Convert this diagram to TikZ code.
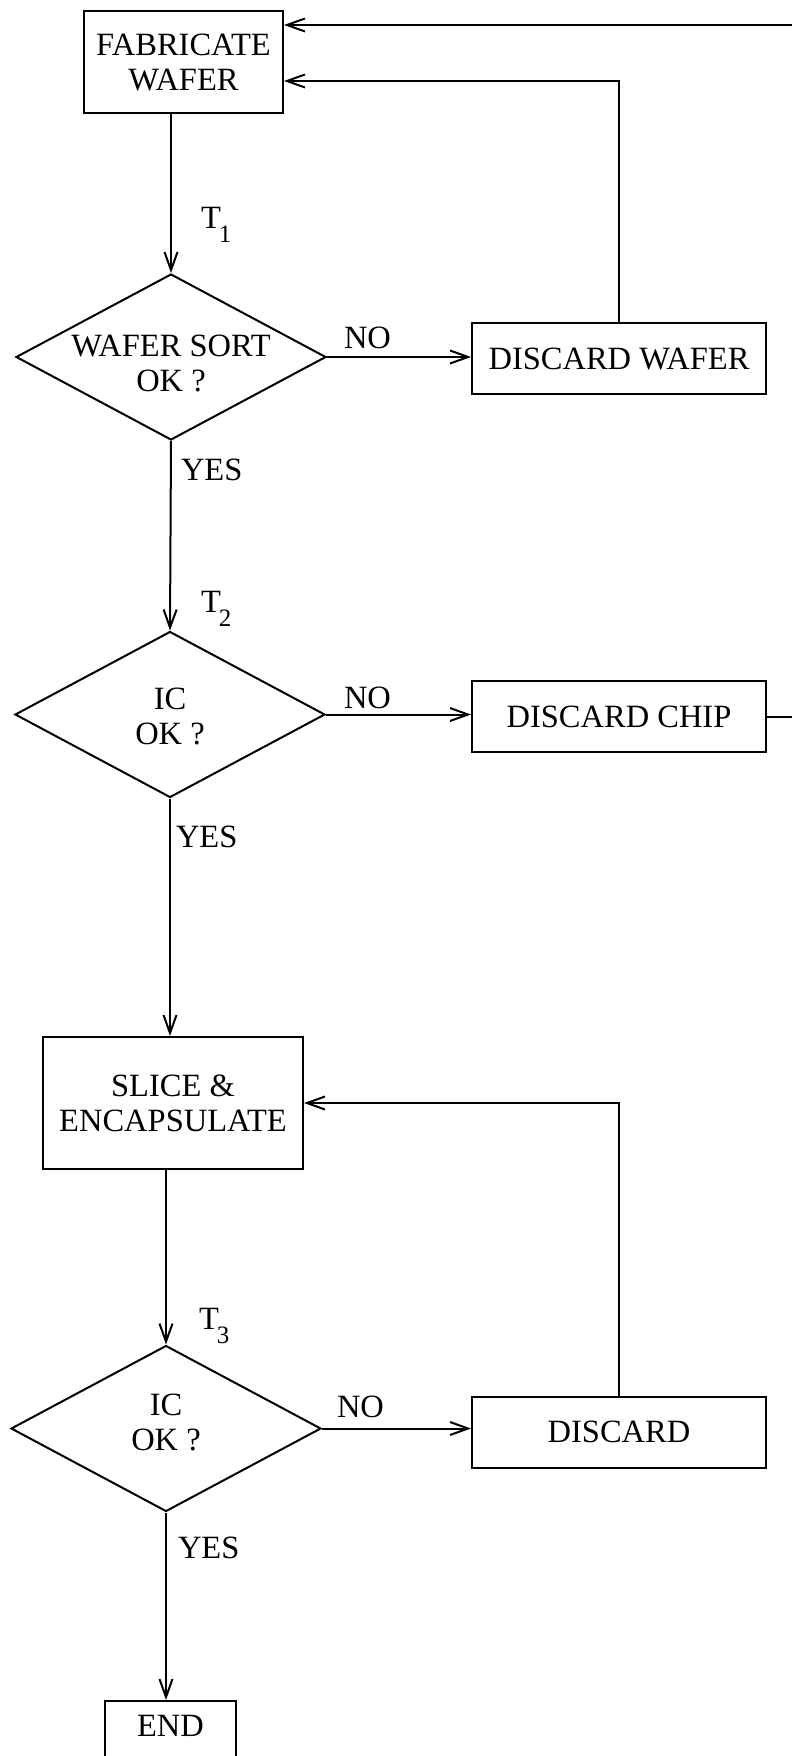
\documentclass[tikz,border=0pt]{standalone}
\usepackage{fontspec}
\setmainfont{Liberation Serif}
\usetikzlibrary{arrows.meta, positioning, shapes.geometric}
\newcommand{\tlab}[1]{T\hspace{-2pt}\raisebox{-14pt}{\fontsize{25}{25}\selectfont #1}}

\begin{document}
\begin{tikzpicture}[x=1pt, y=-1pt, >={Straight Barb[length=18pt, width=13pt]},
    line width=2pt, font=\fontsize{32.5}{35}\selectfont,
    box/.style={draw, rectangle, inner sep=0pt, align=center},
    decision/.style={draw, diamond, inner sep=0pt,
      minimum width=310pt, minimum height=166pt},
    lbl/.style={inner sep=0pt, anchor=base west}]
  \useasboundingbox (0,0) rectangle (792,1756);
  % main column
  \node[box, minimum width=199pt, minimum height=102pt] (fab) at (183.5,62)
    {FABRICATE\\WAFER};
  \foreach \i/\x/\y in {1/171/357, 2/170/714.5, 3/166/1428.5}
    \node[decision] (d\i) at (\x,\y) {};
  \node[align=center, inner sep=0pt] (q1) at (171,363.5) {WAFER SORT\\OK ?};
  \node[align=center, inner sep=0pt] (q2) at (170,716.5) {IC\\OK ?};
  \node[align=center, inner sep=0pt] (q3) at (166,1422.5) {IC\\OK ?};
  \node[box, minimum width=260pt, minimum height=132pt] (sl) at (173,1103)
    {SLICE \&\\ENCAPSULATE};
  \node[box, anchor=north, minimum width=131pt, text height=35pt,
        text depth=70pt] (en) at (170.5,1700) {END};
  % discard column
  \foreach \n/\y/\t in {dw/358.5/DISCARD WAFER, dc/716.5/DISCARD CHIP,
                        ds/1432/DISCARD}
    \node[box, minimum width=294pt, minimum height=71pt] (\n) at (619,\y) {\t};
  \coordinate (ret1) at (800,25);
  \coordinate (ret2) at (800,715);

  % flow
  \draw[->] (d1.north |- fab.south) -- (d1.north);
  \draw[->] (d1.south) -- (d2.north);
  \draw[->] (d2.south) -- (d2.south |- sl.north);
  \draw[->] (sl.south -| d3.north) -- (d3.north);
  \draw[->] (d3.south) -- (d3.south |- en.north);
  \foreach \i/\n in {1/dw, 2/dc, 3/ds}
    \draw[->] (d\i.east) -- (d\i.east -| \n.west);
  % returns
  \draw[->] (ret1) -- (ret1 -| fab.east);
  \draw[->] (dw.north) |- ([yshift=-19pt]fab.east);
  \draw (dc.east) -- (dc.east -| ret2);
  \draw[->] (ds.north) |- (sl.east);

  % labels
  \node[lbl] (t1) at (200,228) {\tlab{1}};
  \node[lbl] (t2) at (200,612) {\tlab{2}};
  \node[lbl] (t3) at (198,1329) {\tlab{3}};
  \foreach \i/\x/\y in {1/343/348, 2/343/708, 3/336/1417}
    \node[lbl] (no\i) at (\x,\y) {NO};
  \foreach \i/\x/\y in {1/180/480, 2/175/847, 3/177/1558}
    \node[lbl] (yes\i) at (\x,\y) {YES};
\end{tikzpicture}
\end{document}
